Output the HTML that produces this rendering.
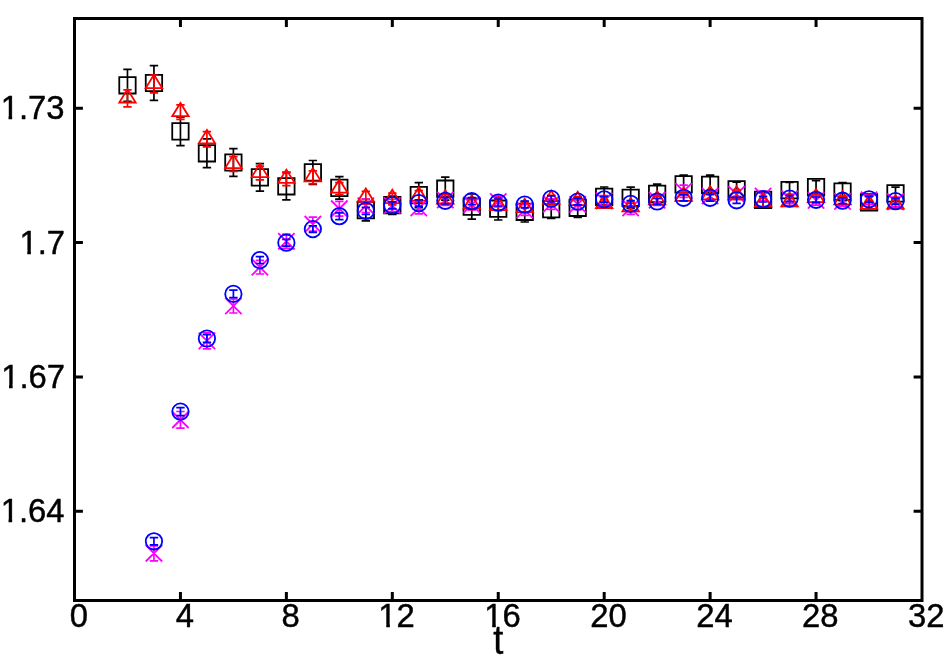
<!DOCTYPE html>
<html><head><meta charset="utf-8"><title>plot</title>
<style>html,body{margin:0;padding:0;background:#fff}svg{display:block;will-change:transform}body{font-family:"Liberation Sans",sans-serif}</style>
</head><body>
<svg width="949" height="664" viewBox="0 0 949 664">
<path d="M180.44 600.5v-8.4M180.44 18.5v8.4M286.37 600.5v-8.4M286.37 18.5v8.4M392.31 600.5v-8.4M392.31 18.5v8.4M498.24 600.5v-8.4M498.24 18.5v8.4M604.18 600.5v-8.4M604.18 18.5v8.4M710.12 600.5v-8.4M710.12 18.5v8.4M816.05 600.5v-8.4M816.05 18.5v8.4M74.5 108.3h8.4M922 108.3h-8.4M74.5 242.6h8.4M922 242.6h-8.4M74.5 376.9h8.4M922 376.9h-8.4M74.5 511.3h8.4M922 511.3h-8.4" stroke="#000" stroke-width="3" fill="none"/>
<g stroke="#000" fill="none">
<path stroke-width="1.7" d="M127.47 69.3V101.3M123.27 69.3H131.67M123.27 101.3H131.67M153.95 65.7V100.3M149.75 65.7H158.15M149.75 100.3H158.15M180.44 117.2V145.6M176.24 117.2H184.64M176.24 145.6H184.64M206.92 138.9V167.7M202.72 138.9H211.12M202.72 167.7H211.12M233.4 148.7V176.3M229.2 148.7H237.6M229.2 176.3H237.6M259.89 163.7V191.1M255.69 163.7H264.09M255.69 191.1H264.09M286.37 172.7V199.9M282.17 172.7H290.57M282.17 199.9H290.57M312.86 160.5V184.3M308.66 160.5H317.06M308.66 184.3H317.06M339.34 176.7V199.1M335.14 176.7H343.54M335.14 199.1H343.54M365.82 199.3V220.9M361.62 199.3H370.02M361.62 220.9H370.02M392.31 196V214.4M388.11 196H396.51M388.11 214.4H396.51M418.79 182.6V207.6M414.59 182.6H422.99M414.59 207.6H422.99M445.28 177.2V200.2M441.08 177.2H449.48M441.08 200.2H449.48M471.76 194V219.2M467.56 194H475.96M467.56 219.2H475.96M498.24 197.4V220M494.04 197.4H502.44M494.04 220H502.44M524.73 201.6V222M520.53 201.6H528.93M520.53 222H528.93M551.21 199.8V218.4M547.01 199.8H555.41M547.01 218.4H555.41M577.7 198.1V217.5M573.5 198.1H581.9M573.5 217.5H581.9M604.18 187V206.8M599.98 187H608.38M599.98 206.8H608.38M630.66 187.1V208.5M626.46 187.1H634.86M626.46 208.5H634.86M657.15 184.2V203.6M652.95 184.2H661.35M652.95 203.6H661.35M683.63 175.1V193.7M679.43 175.1H687.83M679.43 193.7H687.83M710.12 175.2V194.4M705.92 175.2H714.32M705.92 194.4H714.32M736.6 182.1V196.5M732.4 182.1H740.8M732.4 196.5H740.8M763.08 192.8V206.8M758.88 192.8H767.28M758.88 206.8H767.28M789.57 182.5V197.7M785.37 182.5H793.77M785.37 197.7H793.77M816.05 180.6V193.6M811.85 180.6H820.25M811.85 193.6H820.25M842.54 182.5V200.7M838.34 182.5H846.74M838.34 200.7H846.74M869.02 195.3V209.3M864.82 195.3H873.22M864.82 209.3H873.22M895.5 187.1V199.7M891.3 187.1H899.7M891.3 199.7H899.7"/>
<path stroke-width="1.8" d="M119.27 77.1h16.4v16.4h-16.4zM145.75 74.8h16.4v16.4h-16.4zM172.24 123.2h16.4v16.4h-16.4zM198.72 145.1h16.4v16.4h-16.4zM225.2 154.3h16.4v16.4h-16.4zM251.69 169.2h16.4v16.4h-16.4zM278.17 178.1h16.4v16.4h-16.4zM304.66 164.2h16.4v16.4h-16.4zM331.14 179.7h16.4v16.4h-16.4zM357.62 201.9h16.4v16.4h-16.4zM384.11 197h16.4v16.4h-16.4zM410.59 186.9h16.4v16.4h-16.4zM437.08 180.5h16.4v16.4h-16.4zM463.56 198.4h16.4v16.4h-16.4zM490.04 200.5h16.4v16.4h-16.4zM516.53 203.6h16.4v16.4h-16.4zM543.01 200.9h16.4v16.4h-16.4zM569.5 199.6h16.4v16.4h-16.4zM595.98 188.7h16.4v16.4h-16.4zM622.46 189.6h16.4v16.4h-16.4zM648.95 185.7h16.4v16.4h-16.4zM675.43 176.2h16.4v16.4h-16.4zM701.92 176.6h16.4v16.4h-16.4zM728.4 181.1h16.4v16.4h-16.4zM754.88 191.6h16.4v16.4h-16.4zM781.37 181.9h16.4v16.4h-16.4zM807.85 178.9h16.4v16.4h-16.4zM834.34 183.4h16.4v16.4h-16.4zM860.82 194.1h16.4v16.4h-16.4zM887.3 185.2h16.4v16.4h-16.4z"/>
</g>
<g stroke="#f0f" fill="none">
<path stroke-width="1.7" d="M153.95 545.8V560.8M149.75 545.8H158.15M149.75 560.8H158.15M180.44 411.5V428.1M176.24 411.5H184.64M176.24 428.1H184.64M206.92 332.9V348.9M202.72 332.9H211.12M202.72 348.9H211.12M233.4 299V313M229.2 299H237.6M229.2 313H237.6M259.89 260.4V274M255.69 260.4H264.09M255.69 274H264.09M286.37 234.2V248.4M282.17 234.2H290.57M282.17 248.4H290.57M312.86 217.2V231.2M308.66 217.2H317.06M308.66 231.2H317.06M339.34 201.3V216.1M335.14 201.3H343.54M335.14 216.1H343.54M365.82 199.1V212.5M361.62 199.1H370.02M361.62 212.5H370.02M392.31 199.5V211.5M388.11 199.5H396.51M388.11 211.5H396.51M418.79 202.2V213.8M414.59 202.2H422.99M414.59 213.8H422.99M445.28 194.7V205.3M441.08 194.7H449.48M441.08 205.3H449.48M471.76 199.3V209.9M467.56 199.3H475.96M467.56 209.9H475.96M498.24 196.2V206.8M494.04 196.2H502.44M494.04 206.8H502.44M524.73 204.7V215.3M520.53 204.7H528.93M520.53 215.3H528.93M551.21 198.8V209.4M547.01 198.8H555.41M547.01 209.4H555.41M577.7 199.1V209.7M573.5 199.1H581.9M573.5 209.7H581.9M604.18 195.6V206.2M599.98 195.6H608.38M599.98 206.2H608.38M630.66 201.7V214.3M626.46 201.7H634.86M626.46 214.3H634.86M657.15 194.8V205.4M652.95 194.8H661.35M652.95 205.4H661.35M683.63 185.2V197.4M679.43 185.2H687.83M679.43 197.4H687.83M710.12 191.2V200.8M705.92 191.2H714.32M705.92 200.8H714.32M736.6 189.5V199.1M732.4 189.5H740.8M732.4 199.1H740.8M763.08 191.3V200.9M758.88 191.3H767.28M758.88 200.9H767.28M789.57 194.1V203.7M785.37 194.1H793.77M785.37 203.7H793.77M816.05 195.6V205.2M811.85 195.6H820.25M811.85 205.2H820.25M842.54 196.6V206.2M838.34 196.6H846.74M838.34 206.2H846.74M869.02 195V204.6M864.82 195H873.22M864.82 204.6H873.22M895.5 197.1V206.7M891.3 197.1H899.7M891.3 206.7H899.7"/>
<path stroke-width="1.8" d="M145.75 545.1L162.15 561.5M145.75 561.5L162.15 545.1M172.24 411.6L188.64 428M172.24 428L188.64 411.6M198.72 332.7L215.12 349.1M198.72 349.1L215.12 332.7M225.2 297.8L241.6 314.2M225.2 314.2L241.6 297.8M251.69 259L268.09 275.4M251.69 275.4L268.09 259M278.17 233.1L294.57 249.5M278.17 249.5L294.57 233.1M304.66 216L321.06 232.4M304.66 232.4L321.06 216M331.14 200.5L347.54 216.9M331.14 216.9L347.54 200.5M357.62 197.6L374.02 214M357.62 214L374.02 197.6M384.11 197.3L400.51 213.7M384.11 213.7L400.51 197.3M410.59 199.8L426.99 216.2M410.59 216.2L426.99 199.8M437.08 191.8L453.48 208.2M437.08 208.2L453.48 191.8M463.56 196.4L479.96 212.8M463.56 212.8L479.96 196.4M490.04 193.3L506.44 209.7M490.04 209.7L506.44 193.3M516.53 201.8L532.93 218.2M516.53 218.2L532.93 201.8M543.01 195.9L559.41 212.3M543.01 212.3L559.41 195.9M569.5 196.2L585.9 212.6M569.5 212.6L585.9 196.2M595.98 192.7L612.38 209.1M595.98 209.1L612.38 192.7M622.46 199.8L638.86 216.2M622.46 216.2L638.86 199.8M648.95 191.9L665.35 208.3M648.95 208.3L665.35 191.9M675.43 183.1L691.83 199.5M675.43 199.5L691.83 183.1M701.92 187.8L718.32 204.2M701.92 204.2L718.32 187.8M728.4 186.1L744.8 202.5M728.4 202.5L744.8 186.1M754.88 187.9L771.28 204.3M754.88 204.3L771.28 187.9M781.37 190.7L797.77 207.1M781.37 207.1L797.77 190.7M807.85 192.2L824.25 208.6M807.85 208.6L824.25 192.2M834.34 193.2L850.74 209.6M834.34 209.6L850.74 193.2M860.82 191.6L877.22 208M860.82 208L877.22 191.6M887.3 193.7L903.7 210.1M887.3 210.1L903.7 193.7"/>
</g>
<g stroke="#f00" fill="none">
<path stroke-width="1.7" d="M127.47 89.9V106.9M123.27 89.9H131.67M123.27 106.9H131.67M153.95 75.2V92.8M149.75 75.2H158.15M149.75 92.8H158.15M180.44 104.9V119.3M176.24 104.9H184.64M176.24 119.3H184.64M206.92 131.6V146.8M202.72 131.6H211.12M202.72 146.8H211.12M233.4 156.7V171.3M229.2 156.7H237.6M229.2 171.3H237.6M259.89 166.1V179.9M255.69 166.1H264.09M255.69 179.9H264.09M286.37 172.05V185.55M282.17 172.05H290.57M282.17 185.55H290.57M312.86 170.8V183.8M308.66 170.8H317.06M308.66 183.8H317.06M339.34 182.6V194.6M335.14 182.6H343.54M335.14 194.6H343.54M365.82 191.3V203.9M361.62 191.3H370.02M361.62 203.9H370.02M392.31 193.2V204.8M388.11 193.2H396.51M388.11 204.8H396.51M418.79 190.7V202.3M414.59 190.7H422.99M414.59 202.3H422.99M445.28 194.4V204.4M441.08 194.4H449.48M441.08 204.4H449.48M471.76 199.7V209.3M467.56 199.7H475.96M467.56 209.3H475.96M498.24 201.3V210.7M494.04 201.3H502.44M494.04 210.7H502.44M524.73 203.4V212.6M520.53 203.4H528.93M520.53 212.6H528.93M551.21 195.3V204.3M547.01 195.3H555.41M547.01 204.3H555.41M577.7 196.6V205.4M573.5 196.6H581.9M573.5 205.4H581.9M604.18 199.8V208M599.98 199.8H608.38M599.98 208H608.38M630.66 203.1V211.3M626.46 203.1H634.86M626.46 211.3H634.86M657.15 196.1V204.3M652.95 196.1H661.35M652.95 204.3H661.35M683.63 192.7V200.9M679.43 192.7H687.83M679.43 200.9H687.83M710.12 191.1V199.3M705.92 191.1H714.32M705.92 199.3H714.32M736.6 191.2V199.4M732.4 191.2H740.8M732.4 199.4H740.8M763.08 198.5V206.7M758.88 198.5H767.28M758.88 206.7H767.28M789.57 198.1V206.3M785.37 198.1H793.77M785.37 206.3H793.77M816.05 194V202.2M811.85 194H820.25M811.85 202.2H820.25M842.54 196.2V204.4M838.34 196.2H846.74M838.34 204.4H846.74M869.02 200.6V208.8M864.82 200.6H873.22M864.82 208.8H873.22M895.5 200.3V208.5M891.3 200.3H899.7M891.3 208.5H899.7"/>
<path stroke-width="1.8" d="M127.47 89.22L119.27 102.5L135.67 102.5zM153.95 74.82L145.75 88.1L162.15 88.1zM180.44 102.92L172.24 116.2L188.64 116.2zM206.92 130.02L198.72 143.3L215.12 143.3zM233.4 154.82L225.2 168.1L241.6 168.1zM259.89 163.82L251.69 177.1L268.09 177.1zM286.37 169.62L278.17 182.9L294.57 182.9zM312.86 168.12L304.66 181.4L321.06 181.4zM339.34 179.42L331.14 192.7L347.54 192.7zM365.82 188.42L357.62 201.7L374.02 201.7zM392.31 189.82L384.11 203.1L400.51 203.1zM418.79 187.32L410.59 200.6L426.99 200.6zM445.28 190.22L437.08 203.5L453.48 203.5zM471.76 195.32L463.56 208.6L479.96 208.6zM498.24 196.82L490.04 210.1L506.44 210.1zM524.73 198.82L516.53 212.1L532.93 212.1zM551.21 190.62L543.01 203.9L559.41 203.9zM577.7 191.82L569.5 205.1L585.9 205.1zM604.18 194.72L595.98 208L612.38 208zM630.66 198.02L622.46 211.3L638.86 211.3zM657.15 191.02L648.95 204.3L665.35 204.3zM683.63 187.62L675.43 200.9L691.83 200.9zM710.12 186.02L701.92 199.3L718.32 199.3zM736.6 186.12L728.4 199.4L744.8 199.4zM763.08 193.42L754.88 206.7L771.28 206.7zM789.57 193.02L781.37 206.3L797.77 206.3zM816.05 188.92L807.85 202.2L824.25 202.2zM842.54 191.12L834.34 204.4L850.74 204.4zM869.02 195.52L860.82 208.8L877.22 208.8zM895.5 195.22L887.3 208.5L903.7 208.5z"/>
</g>
<g stroke="#00f" fill="none">
<path stroke-width="1.7" d="M153.95 537.7V544.9M149.75 537.7H158.15M149.75 544.9H158.15M180.44 407.6V415.6M176.24 407.6H184.64M176.24 415.6H184.64M206.92 334.6V342.4M202.72 334.6H211.12M202.72 342.4H211.12M233.4 290.1V297.7M229.2 290.1H237.6M229.2 297.7H237.6M259.89 256.7V263.5M255.69 256.7H264.09M255.69 263.5H264.09M286.37 239.3V246.1M282.17 239.3H290.57M282.17 246.1H290.57M312.86 225.8V232.4M308.66 225.8H317.06M308.66 232.4H317.06M339.34 212.8V219.6M335.14 212.8H343.54M335.14 219.6H343.54M365.82 207.3V214.3M361.62 207.3H370.02M361.62 214.3H370.02M392.31 201.9V208.9M388.11 201.9H396.51M388.11 208.9H396.51M418.79 199.9V206.3M414.59 199.9H422.99M414.59 206.3H422.99M445.28 197.6V204M441.08 197.6H449.48M441.08 204H449.48M471.76 197.7V204.7M467.56 197.7H475.96M467.56 204.7H475.96M498.24 199V206M494.04 199H502.44M494.04 206H502.44M524.73 201.1V207.9M520.53 201.1H528.93M520.53 207.9H528.93M551.21 195.9V201.9M547.01 195.9H555.41M547.01 201.9H555.41M577.7 198.4V204.8M573.5 198.4H581.9M573.5 204.8H581.9M604.18 196.5V202.1M599.98 196.5H608.38M599.98 202.1H608.38M630.66 200.7V207.1M626.46 200.7H634.86M626.46 207.1H634.86M657.15 198.5V204.5M652.95 198.5H661.35M652.95 204.5H661.35M683.63 194.8V200.8M679.43 194.8H687.83M679.43 200.8H687.83M710.12 194.4V201.2M705.92 194.4H714.32M705.92 201.2H714.32M736.6 197.3V203.3M732.4 197.3H740.8M732.4 203.3H740.8M763.08 196.4V202M758.88 196.4H767.28M758.88 202H767.28M789.57 195.6V201.6M785.37 195.6H793.77M785.37 201.6H793.77M816.05 197V202.6M811.85 197H820.25M811.85 202.6H820.25M842.54 197.8V203.6M838.34 197.8H846.74M838.34 203.6H846.74M869.02 196.3V202.3M864.82 196.3H873.22M864.82 202.3H873.22M895.5 198.1V204.1M891.3 198.1H899.7M891.3 204.1H899.7"/>
<path stroke-width="1.8" d="M145.75 541.3a8.2 8.2 0 1 0 16.4 0a8.2 8.2 0 1 0 -16.4 0zM172.24 411.6a8.2 8.2 0 1 0 16.4 0a8.2 8.2 0 1 0 -16.4 0zM198.72 338.5a8.2 8.2 0 1 0 16.4 0a8.2 8.2 0 1 0 -16.4 0zM225.2 293.9a8.2 8.2 0 1 0 16.4 0a8.2 8.2 0 1 0 -16.4 0zM251.69 260.1a8.2 8.2 0 1 0 16.4 0a8.2 8.2 0 1 0 -16.4 0zM278.17 242.7a8.2 8.2 0 1 0 16.4 0a8.2 8.2 0 1 0 -16.4 0zM304.66 229.1a8.2 8.2 0 1 0 16.4 0a8.2 8.2 0 1 0 -16.4 0zM331.14 216.2a8.2 8.2 0 1 0 16.4 0a8.2 8.2 0 1 0 -16.4 0zM357.62 210.8a8.2 8.2 0 1 0 16.4 0a8.2 8.2 0 1 0 -16.4 0zM384.11 205.4a8.2 8.2 0 1 0 16.4 0a8.2 8.2 0 1 0 -16.4 0zM410.59 203.1a8.2 8.2 0 1 0 16.4 0a8.2 8.2 0 1 0 -16.4 0zM437.08 200.8a8.2 8.2 0 1 0 16.4 0a8.2 8.2 0 1 0 -16.4 0zM463.56 201.2a8.2 8.2 0 1 0 16.4 0a8.2 8.2 0 1 0 -16.4 0zM490.04 202.5a8.2 8.2 0 1 0 16.4 0a8.2 8.2 0 1 0 -16.4 0zM516.53 204.5a8.2 8.2 0 1 0 16.4 0a8.2 8.2 0 1 0 -16.4 0zM543.01 198.9a8.2 8.2 0 1 0 16.4 0a8.2 8.2 0 1 0 -16.4 0zM569.5 201.6a8.2 8.2 0 1 0 16.4 0a8.2 8.2 0 1 0 -16.4 0zM595.98 199.3a8.2 8.2 0 1 0 16.4 0a8.2 8.2 0 1 0 -16.4 0zM622.46 203.9a8.2 8.2 0 1 0 16.4 0a8.2 8.2 0 1 0 -16.4 0zM648.95 201.5a8.2 8.2 0 1 0 16.4 0a8.2 8.2 0 1 0 -16.4 0zM675.43 197.8a8.2 8.2 0 1 0 16.4 0a8.2 8.2 0 1 0 -16.4 0zM701.92 197.8a8.2 8.2 0 1 0 16.4 0a8.2 8.2 0 1 0 -16.4 0zM728.4 200.3a8.2 8.2 0 1 0 16.4 0a8.2 8.2 0 1 0 -16.4 0zM754.88 199.2a8.2 8.2 0 1 0 16.4 0a8.2 8.2 0 1 0 -16.4 0zM781.37 198.6a8.2 8.2 0 1 0 16.4 0a8.2 8.2 0 1 0 -16.4 0zM807.85 199.8a8.2 8.2 0 1 0 16.4 0a8.2 8.2 0 1 0 -16.4 0zM834.34 200.7a8.2 8.2 0 1 0 16.4 0a8.2 8.2 0 1 0 -16.4 0zM860.82 199.3a8.2 8.2 0 1 0 16.4 0a8.2 8.2 0 1 0 -16.4 0zM887.3 201.1a8.2 8.2 0 1 0 16.4 0a8.2 8.2 0 1 0 -16.4 0z"/>
</g>
<rect x="74.5" y="18.5" width="847.5" height="582.0" fill="none" stroke="#000" stroke-width="3"/>
<g font-family="Liberation Sans, sans-serif" font-size="34" fill="#000" stroke="#000" stroke-width="0.45" stroke-linejoin="round">
<g transform="translate(64.5 119.3) scale(0.965 1)"><text x="-66.17" y="0">1.73</text><rect x="-65.68" y="-3.57" width="7.67" height="5.07" fill="#fff" stroke="none"/><rect x="-54.24" y="-3.57" width="6.64" height="5.07" fill="#fff" stroke="none"/></g>
<g transform="translate(65 253.6) scale(0.965 1)"><text x="-47.26" y="0">1.7</text><rect x="-46.77" y="-3.57" width="7.67" height="5.07" fill="#fff" stroke="none"/><rect x="-35.33" y="-3.57" width="6.64" height="5.07" fill="#fff" stroke="none"/></g>
<g transform="translate(65 387.9) scale(0.965 1)"><text x="-66.17" y="0">1.67</text><rect x="-65.68" y="-3.57" width="7.67" height="5.07" fill="#fff" stroke="none"/><rect x="-54.24" y="-3.57" width="6.64" height="5.07" fill="#fff" stroke="none"/></g>
<g transform="translate(64.5 522.3) scale(0.965 1)"><text x="-66.17" y="0">1.64</text><rect x="-65.68" y="-3.57" width="7.67" height="5.07" fill="#fff" stroke="none"/><rect x="-54.24" y="-3.57" width="6.64" height="5.07" fill="#fff" stroke="none"/></g>
<g transform="translate(78.8 627.4) scale(0.965 1)"><text x="-9.45" y="0">0</text></g>
<g transform="translate(184.74 627.4) scale(0.965 1)"><text x="-9.45" y="0">4</text></g>
<g transform="translate(290.67 627.4) scale(0.965 1)"><text x="-9.45" y="0">8</text></g>
<g transform="translate(396.61 627.4) scale(0.965 1)"><text x="-18.91" y="0">12</text><rect x="-18.41" y="-3.57" width="7.67" height="5.07" fill="#fff" stroke="none"/><rect x="-6.97" y="-3.57" width="6.64" height="5.07" fill="#fff" stroke="none"/></g>
<g transform="translate(502.54 627.4) scale(0.965 1)"><text x="-18.91" y="0">16</text><rect x="-18.41" y="-3.57" width="7.67" height="5.07" fill="#fff" stroke="none"/><rect x="-6.97" y="-3.57" width="6.64" height="5.07" fill="#fff" stroke="none"/></g>
<g transform="translate(608.48 627.4) scale(0.965 1)"><text x="-18.91" y="0">20</text></g>
<g transform="translate(714.42 627.4) scale(0.965 1)"><text x="-18.91" y="0">24</text></g>
<g transform="translate(820.35 627.4) scale(0.965 1)"><text x="-18.91" y="0">28</text></g>
<g transform="translate(926.29 627.4) scale(0.965 1)"><text x="-18.91" y="0">32</text></g>
<g transform="translate(493.3 654.4) scale(0.89 1)"><text x="0" y="0" font-size="40.8">t</text></g>
</g>
</svg>
</body></html>
